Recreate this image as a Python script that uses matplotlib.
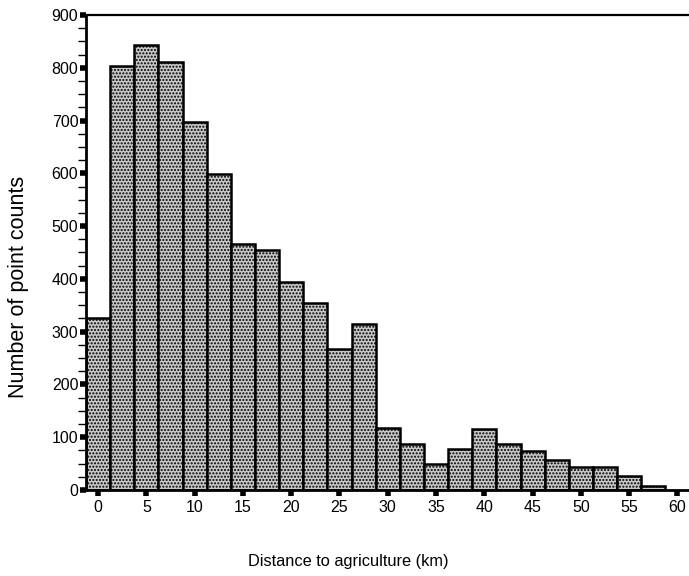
import matplotlib
matplotlib.use("Agg")
from matplotlib import pyplot as plt
from matplotlib.ticker import MultipleLocator

# data (bin centres in km, 2.5 km wide bins)
distance_km = [0, 2.5, 5, 7.5, 10, 12.5, 15, 17.5, 20, 22.5, 25, 27.5,
               30, 32.5, 35, 37.5, 40, 42.5, 45, 47.5, 50, 52.5, 55, 57.5]
point_counts = [326, 804, 843, 810, 698, 598, 467, 455, 395, 354, 267, 315,
                117, 88, 50, 78, 116, 88, 73, 57, 43, 43, 27, 8]
bin_width = 2.5
x_ticks = list(range(0, 61, 5))
y_ticks = list(range(0, 901, 100))

plt.rcParams['font.family'] = ['Liberation Sans', 'DejaVu Sans']
plt.rcParams['hatch.color'] = '#333333'
plt.rcParams['hatch.linewidth'] = 1.0

fig = plt.figure(figsize=(6.89, 5.76), dpi=100)
ax = fig.add_axes([0.1248, 0.1493, 0.8752, 0.8247])

ax.bar(distance_km, point_counts, width=bin_width, facecolor='#c8c8c8',
       edgecolor='black', linewidth=1.8, hatch='.....', zorder=2)

ax.set_xlim(-1.25, 61.2)
ax.set_ylim(0, 900)
ax.set_xticks(x_ticks)
ax.set_yticks(y_ticks)
ax.yaxis.set_minor_locator(MultipleLocator(25))

# axes look
ax.spines['right'].set_visible(False)
ax.spines['top'].set_linewidth(1.6)
ax.spines['left'].set_linewidth(2)
ax.spines['bottom'].set_linewidth(2)
ax.tick_params(axis='x', which='major', direction='out', length=4, width=4,
               labelsize=11.5, pad=3)
ax.tick_params(axis='y', which='major', direction='out', length=4, width=4,
               labelsize=11.5, pad=1.5)
ax.tick_params(axis='y', which='minor', direction='out', length=6, width=1)

fig.text(0.505, 0.026, "Distance to agriculture (km)", ha='center',
         va='center', fontsize=11.8)
fig.text(0.027, 0.502, "Number of point counts", ha='center', va='center',
         rotation=90, fontsize=15.5)

fig.savefig("out.png", dpi=100)
